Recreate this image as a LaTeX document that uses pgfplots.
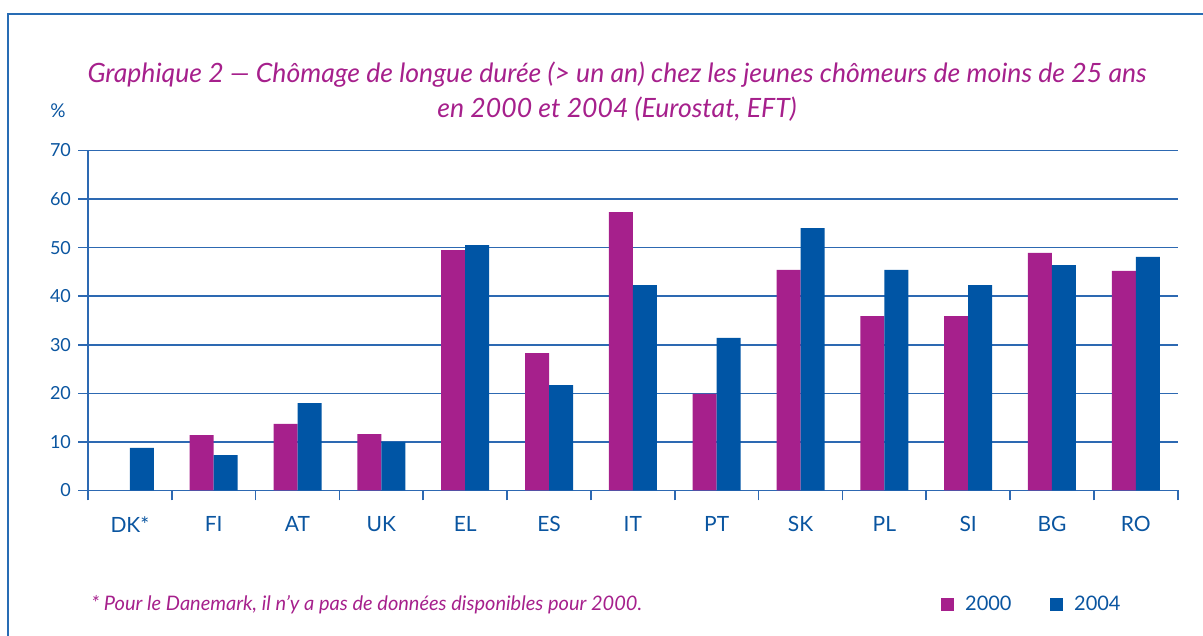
\documentclass[border=0pt]{standalone}
\usepackage{pgfplots}
\pgfplotsset{compat=1.18}
\usepackage{fontspec}
\setmainfont{Lato}
\definecolor{cmag}{RGB}{166,32,140}
\definecolor{cblue}{RGB}{0,85,165}
\definecolor{ctxt}{RGB}{10,85,160}
\definecolor{cgrid}{RGB}{45,105,178}
\definecolor{cframe}{RGB}{40,108,180}
\begin{document}
\begin{tikzpicture}
\path[use as bounding box] (0pt,0pt) rectangle (601.5pt,318pt);
\draw[cframe, line width=1pt] (4pt,-2pt) -- (4pt,310.75pt) -- (603pt,310.75pt);
\node[anchor=base, text=cmag, font=\fontsize{13.3}{16}\selectfont\itshape] at (308.5pt,276.5pt) {Graphique 2 — Chômage de longue durée (> un an) chez les jeunes chômeurs de moins de 25 ans};
\node[anchor=base, text=cmag, font=\fontsize{13.3}{16}\selectfont\itshape] at (308.5pt,259pt) {en 2000 et 2004 (Eurostat, EFT)};
\node[anchor=base west, text=ctxt, inner sep=0pt, font=\fontsize{9.5}{11}\selectfont] at (25pt,259pt) {\%};
\node[anchor=base west, text=cmag, inner sep=0pt, font=\fontsize{10}{12}\selectfont\itshape] at (45.5pt,12.5pt) {* Pour le Danemark, il n’y a pas de données disponibles pour 2000.};
\begin{axis}[
  at={(44pt,72.75pt)}, anchor=south west,
  scale only axis, width=544.85pt, height=170pt,
  xmin=-0.5, xmax=12.5, ymin=0, ymax=70,
  axis x line*=bottom, axis y line*=left,
  axis line style={cgrid, line width=0.8pt, -},
  ytick={0,10,...,70},
  ymajorgrids, grid style={cgrid, line width=0.8pt},
  xtick={0,...,12},
  xticklabels={DK*,FI,AT,UK,EL,ES,IT,PT,SK,PL,SI,BG,RO},
  minor xtick={-0.5,0.5,...,12.5},
  major x tick style={draw=none},
  minor x tick style={cgrid, line width=0.8pt},
  minor tick length=5pt,
  major tick length=5pt,
  y tick style={cgrid, line width=0.8pt},
  tick align=outside,
  /pgf/number format/assume math mode=true,
  yticklabel style={text=ctxt, font=\fontsize{9}{11}\selectfont},
  xticklabel style={text=ctxt, font=\fontsize{10.5}{12}\selectfont, yshift=-4.5pt},
  legend style={draw=none, fill=none, inner sep=0pt, legend columns=2,
    at={(0.782,-0.335)}, anchor=west, text=ctxt, font=\fontsize{10}{12}\selectfont,
    /tikz/every odd column/.append style={column sep=3.5pt},
    /tikz/every even column/.append style={column sep=17pt}},
  ybar, bar width=12pt,
]
\addplot[fill=cmag, draw=none, bar shift=-6pt,
  legend image code/.code={\fill[cmag] (0pt,-3.3pt) rectangle (6.8pt,3.3pt);}] coordinates {
 (1,11.4) (2,13.7) (3,11.6) (4,49.5) (5,28.3) (6,57.3) (7,19.9) (8,45.4) (9,35.9) (10,35.9) (11,48.9) (12,45.2)};
\addlegendentry{2000}
\addplot[fill=cblue, draw=none, bar shift=6pt,
  legend image code/.code={\fill[cblue] (0pt,-3.3pt) rectangle (6.8pt,3.3pt);}] coordinates {
 (0,8.8) (1,7.3) (2,18.0) (3,10.0) (4,50.5) (5,21.7) (6,42.3) (7,31.4) (8,54.0) (9,45.4) (10,42.3) (11,46.4) (12,48.1)};
\addlegendentry{2004}
\end{axis}
\end{tikzpicture}
\end{document}
